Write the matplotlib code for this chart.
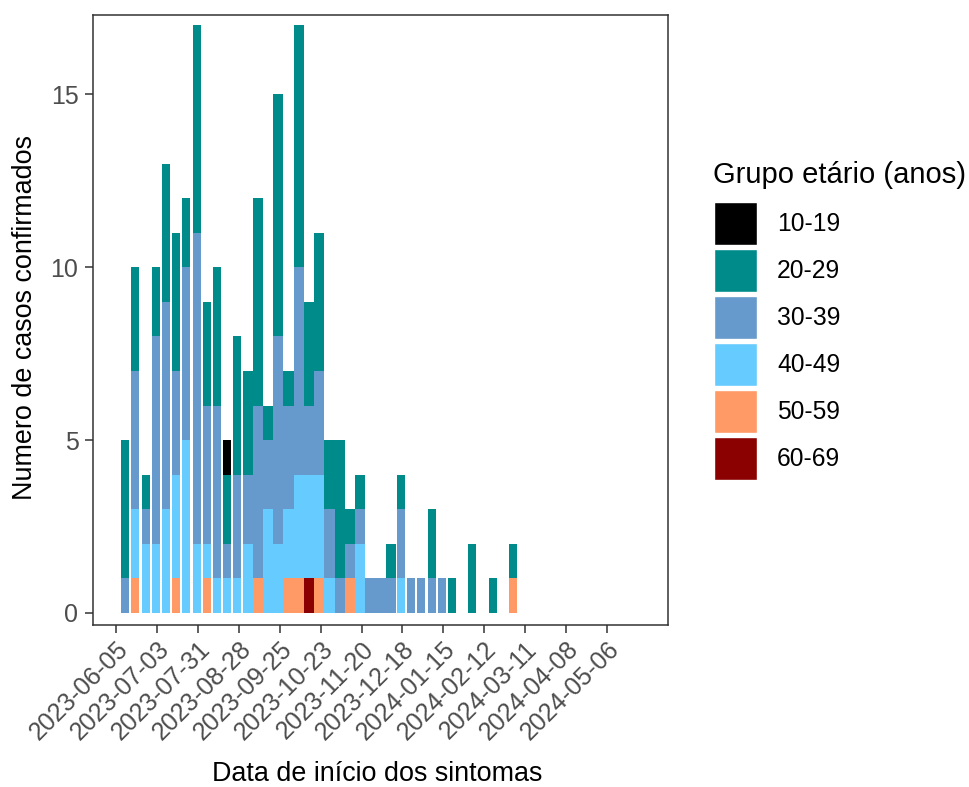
import matplotlib
matplotlib.use("Agg")
import matplotlib.pyplot as plt
from matplotlib.patches import Rectangle
from matplotlib.transforms import ScaledTranslation
import numpy as np
import pandas as pd

plt.rcParams['font.family'] = ['Liberation Sans', 'DejaVu Sans']

# semanas epidemiologicas (inicio) e casos por grupo etario
semanas = pd.date_range("2023-06-11", periods=39, freq="7D")
grupos = ["10-19", "20-29", "30-39", "40-49", "50-59", "60-69"]
cores = ["#000000", "#008B8B", "#6699CC", "#66CCFF", "#FF9966", "#8B0000"]

casos_10_19 = [0, 0, 0, 0, 0, 0, 0, 0, 0, 0, 1, 0, 0, 0, 0, 0, 0, 0, 0, 0,
               0, 0, 0, 0, 0, 0, 0, 0, 0, 0, 0, 0, 0, 0, 0, 0, 0, 0, 0]
casos_20_29 = [4, 3, 1, 2, 4, 4, 2, 6, 3, 4, 2, 4, 3, 6, 1, 7, 1, 7, 3, 4,
               2, 4, 1, 1, 0, 0, 1, 1, 0, 0, 2, 0, 1, 0, 2, 0, 1, 0, 1]
casos_30_39 = [1, 4, 1, 6, 6, 3, 5, 9, 4, 5, 1, 3, 2, 5, 2, 6, 3, 6, 2, 3,
               2, 1, 1, 1, 1, 1, 1, 2, 1, 1, 1, 1, 0, 0, 0, 0, 0, 0, 0]
casos_40_49 = [0, 2, 2, 2, 3, 3, 5, 2, 1, 1, 1, 1, 2, 0, 3, 2, 2, 3, 3, 3,
               1, 0, 0, 2, 0, 0, 0, 1, 0, 0, 0, 0, 0, 0, 0, 0, 0, 0, 0]
casos_50_59 = [0, 1, 0, 0, 0, 1, 0, 0, 1, 0, 0, 0, 0, 1, 0, 0, 1, 1, 0, 1,
               0, 0, 1, 0, 0, 0, 0, 0, 0, 0, 0, 0, 0, 0, 0, 0, 0, 0, 1]
casos_60_69 = [0, 0, 0, 0, 0, 0, 0, 0, 0, 0, 0, 0, 0, 0, 0, 0, 0, 0, 1, 0,
               0, 0, 0, 0, 0, 0, 0, 0, 0, 0, 0, 0, 0, 0, 0, 0, 0, 0, 0]

series = [casos_10_19, casos_20_29, casos_30_39, casos_40_49, casos_50_59, casos_60_69]

inicio_ticks = pd.Timestamp("2023-06-05")
fim_ticks = pd.Timestamp("2024-05-06")

W, H = 970, 787
fig = plt.figure(figsize=(W / 100, H / 100), dpi=100)
ax = fig.add_axes([93 / W, 1 - 625 / H, 575 / W, 610 / H])

# largura: semanas do pico ficam coladas
cheia = (semanas >= "2023-09-03") & (semanas <= "2023-12-10")
larg = np.where(cheia, 7.0, 5.5)

base = np.zeros(len(semanas))
# empilhar de baixo (60-69) para cima (10-19)
for nome, cor, val in reversed(list(zip(grupos, cores, series))):
    val = np.array(val, dtype=float)
    ax.bar(semanas, val, width=larg, bottom=base, color=cor, edgecolor='none', linewidth=0)
    base += val

ax.set_xlim(pd.Timestamp("2023-05-20"), pd.Timestamp("2024-06-17"))
ax.set_ylim(-0.35, 17.3)
ax.set_yticks([0, 5, 10, 15])

ticks = pd.date_range(inicio_ticks, fim_ticks, freq="28D")
ax.set_xticks(ticks)
ax.set_xticklabels([t.strftime("%Y-%m-%d") for t in ticks], rotation=45,
                   ha='right', va='top', rotation_mode='anchor')
desloc = ScaledTranslation(0.13, -0.08, fig.dpi_scale_trans)
for lab in ax.get_xticklabels():
    lab.set_transform(lab.get_transform() + desloc)

for s in ax.spines.values():
    s.set_color('#333333')
    s.set_linewidth(1.1)
ax.tick_params(axis='both', length=5.5, width=1.1, color='#333333',
               labelsize=18, labelcolor='#4D4D4D')
ax.tick_params(axis='y', pad=5)
ax.tick_params(axis='x', pad=3)

fig.text(0.3887, 0.0165, "Data de início dos sintomas", ha='center', va='center', fontsize=19.4)
fig.text(0.0258, 0.596, "Numero de casos confirmados", ha='center', va='center',
         rotation=90, fontsize=19.4)

# legenda
fig.text(713 / W, 1 - 175 / H, "Grupo etário (anos)", ha='left', va='center', fontsize=21)
for i, (g, c) in enumerate(zip(grupos, cores)):
    topo = 202 + 47 * i
    fig.add_artist(Rectangle((714 / W, 1 - (topo + 43) / H), 43 / W, 43 / H,
                             transform=fig.transFigure, facecolor=c,
                             edgecolor='white', linewidth=1))
    fig.text(777 / W, 1 - (topo + 22) / H, g, ha='left', va='center', fontsize=17.7)

fig.savefig("out.png", dpi=100)
